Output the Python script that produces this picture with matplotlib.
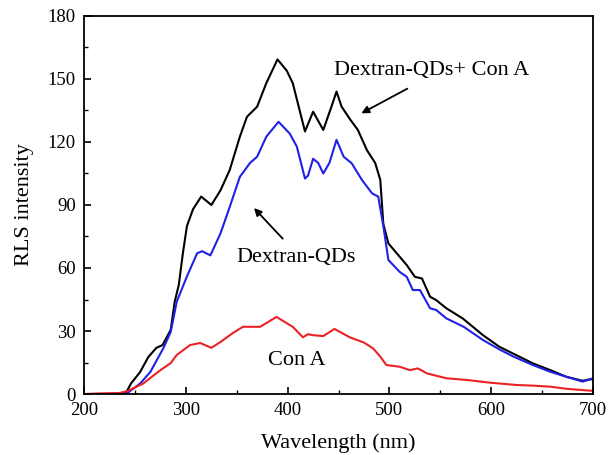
import numpy as np
import matplotlib
matplotlib.use("Agg")
import matplotlib.pyplot as plt
from matplotlib.ticker import MultipleLocator

# ── Dados ─────────────────────────────────────────────────────────────────
wl_black = [200, 230, 241, 246, 255, 263, 271, 277, 285, 289, 293, 297, 301, 307,
            315, 325, 334, 343, 353, 360, 370, 379, 390, 399, 405, 410, 417, 425,
            435, 443, 448, 453, 461, 469, 478, 486, 491, 494, 499, 510, 517, 525,
            532, 540, 546, 556, 572, 592, 608, 621, 641, 658, 674, 690, 697, 700]
rls_black = [0, 0, 0.5, 5, 10.5, 17.6, 22, 23.3, 30.5, 44, 52, 67, 80, 88,
             94, 90, 97, 106.6, 122.5, 132, 136.8, 148, 159.3, 154, 148, 138.4, 125, 134.4,
             125.7, 136.8, 144, 136.8, 131, 125.7, 116, 110, 102, 81, 71.7, 65.4, 61.4, 55.8,
             55, 46.3, 44.7, 40.8, 36, 28, 22.5, 19.4, 14.6, 11.4, 8.2, 6.3, 7, 7]

wl_blue = [200, 230, 242, 255, 265, 278, 285, 291, 301, 311, 316, 324, 334, 343,
           353, 363, 370, 379, 391, 402, 409, 417, 420, 425, 430, 435, 441, 448,
           455, 463, 473, 483, 489, 494, 499, 510, 517, 523, 530, 540, 546, 556,
           573, 592, 609, 622, 641, 658, 674, 690, 697, 700]
rls_blue = [0, 0, 0.3, 5, 10.5, 22, 29.5, 44, 56, 67, 68, 66, 76.5, 89,
            103.4, 110, 113, 122.5, 129.6, 124, 117.8, 102.6, 104, 112, 110, 105, 110, 121,
            113, 109.8, 101.9, 95.5, 94, 80, 63.8, 58.2, 55.8, 49.5, 49.5, 40.8, 40, 36,
            32, 25.7, 21, 17.8, 13.8, 10.6, 8.2, 5.9, 7, 7.5]

wl_red = [200, 215, 235, 243, 258, 275, 285, 291, 304, 314, 325, 334, 346, 356,
          373, 389, 405, 415, 420, 425, 435, 446, 461, 475, 484, 491, 497, 510,
          520, 528, 537, 556, 576, 599, 625, 641, 658, 674, 697, 700]
rls_red = [0, 0.3, 0.5, 1.5, 5, 11.4, 14.7, 18.6, 23.3, 24.3, 22, 24.8, 29, 32,
           32, 36.7, 32, 27, 28.5, 28, 27.6, 31, 27, 24.5, 21.7, 17.8, 13.8, 13,
           11.4, 12.2, 9.8, 7.5, 6.7, 5.4, 4.3, 4, 3.5, 2.5, 1.6, 1.6]

plt.rcParams['font.family'] = ['Liberation Serif', 'DejaVu Serif']

fig = plt.figure(figsize=(6.1, 4.55), dpi=100)
ax = fig.add_axes([0.138, 0.134, 0.834, 0.831])

ax.plot(wl_black, rls_black, color='black', lw=1.5)
ax.plot(wl_blue, rls_blue, color='#2020e6', lw=1.5)
ax.plot(wl_red, rls_red, color='#ea2226', lw=1.5)

ax.set_xlim(200, 700)
ax.set_ylim(0, 180)
ax.xaxis.set_major_locator(MultipleLocator(100))
ax.xaxis.set_minor_locator(MultipleLocator(50))
ax.yaxis.set_major_locator(MultipleLocator(30))
ax.yaxis.set_minor_locator(MultipleLocator(15))
ax.tick_params(which='both', direction='in', top=False, right=False, labelsize=13.5)
ax.tick_params(which='major', length=5, width=1.2, pad=6)
ax.tick_params(which='minor', length=3, width=1.0)
for s in ax.spines.values():
    s.set_linewidth(1.3)

ax.set_xlabel("Wavelength (nm)", fontsize=16, labelpad=10)
ax.set_ylabel("RLS intensity", fontsize=16, labelpad=10)

# anotações
ax.text(541, 154, "Dextran-QDs+ Con A", fontsize=16, ha='center', va='center')
ax.annotate("", xy=(470, 133), xytext=(520, 146),
            arrowprops=dict(arrowstyle='-|>', color='black', lw=1.3, mutation_scale=11))
ax.text(408, 65, "Dextran-QDs", fontsize=16, ha='center', va='center')
ax.annotate("", xy=(365, 89.5), xytext=(397, 73),
            arrowprops=dict(arrowstyle='-|>', color='black', lw=1.3, mutation_scale=11))
ax.text(409, 16, "Con A", fontsize=16, ha='center', va='center')

fig.savefig("out.png", dpi=100)
